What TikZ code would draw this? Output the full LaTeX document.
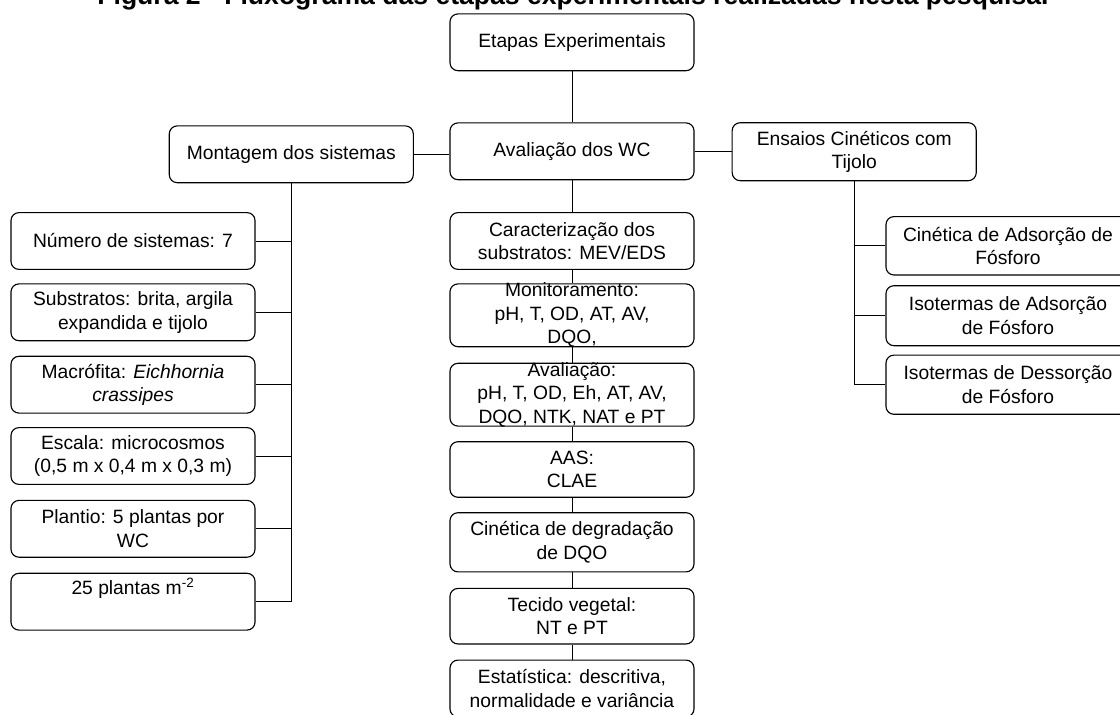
\documentclass[tikz,border=0pt]{standalone}
\usepackage{fontspec}
\setmainfont{Liberation Sans}
\tikzstyle{caixa}=[draw,rounded corners=0.2cm,line width=0.8pt,minimum width=6.1cm,minimum height=1.42cm,inner sep=2pt,align=center,font=\fontsize{13.7}{16.7}\selectfont]
\tikzstyle{texto}=[align=center,inner sep=0pt,font=\fontsize{13.7}{16.7}\selectfont]
\tikzstyle{titulo}=[inner sep=0pt,font=\fontsize{18.9}{22}\selectfont\bfseries]
\newcommand{\pxunit}{0.025cm}

\begin{document}
\begin{tikzpicture}[x=\pxunit,y=-\pxunit,line width=0.65pt]
    \useasboundingbox (0,0) rectangle (1120,715);
    \node[titulo,anchor=base] (tit) at (573,5) {Figura 2 - Fluxograma das etapas experimentais realizadas nesta pesquisa.};
    % topo
    \node[caixa] (etapas) at (572,42.3) {Etapas Experimentais};
    \node[caixa] (aval) at (572,151.3) {Avalia\c{c}\~ao dos WC};
    \node[caixa] (mont) at (291.3,154.3) {Montagem dos sistemas};
    \node[caixa,minimum height=1.45cm] (ens) at (854.2,151.7) {Ensaios Cin\'eticos com\\Tijolo};
    % coluna esquerda
    \node[caixa] (n1) at (133,241) {N\'umero de sistemas: 7};
    \node[caixa] (n2) at (133,312.3) {Substratos: brita, argila\\expandida e tijolo};
    \node[caixa] (n3) at (133,384.7) {Macr\'ofita: \textit{Eichhornia}\\\textit{crassipes}};
    \node[caixa] (n4) at (133,456) {Escala: microcosmos\\(0,5 m x 0,4 m x 0,3 m)};
    \node[caixa] (n5) at (133,528.8) {Plantio: 5 plantas por\\WC};
    \node[caixa] (n6) at (133,601.7) {25 plantas m\textsuperscript{-2}\\\strut};
    % coluna central
    \node[caixa] (car) at (572,241) {Caracteriza\c{c}\~ao dos\\substratos: MEV/EDS};
    \node[caixa,minimum height=1.57cm,label={[texto]center:{Monitoramento:\\pH, T, OD, AT, AV,\\DQO,}}] (mon) at (572,315.3) {};
    \node[caixa,minimum height=1.57cm,label={[texto]center:{Avalia\c{c}\~ao:\\pH, T, OD, Eh, AT, AV,\\DQO, NTK, NAT e PT}}] (ava) at (572,394.7) {};
    \node[caixa,minimum height=1.39cm] (aas) at (572,469.5) {AAS:\\CLAE};
    \node[caixa,minimum height=1.48cm] (cin) at (572,542.3) {Cin\'etica de degrada\c{c}\~ao\\de DQO};
    \node[caixa,minimum height=1.39cm] (tec) at (572,616.2) {Tecido vegetal:\\NT e PT};
    \node[caixa] (est) at (572,688.5) {Estat\'istica: descritiva,\\normalidade e vari\^ancia};
    % coluna direita
    \node[caixa,minimum height=1.46cm] (r1) at (1008,245.8) {Cin\'etica de Adsor\c{c}\~ao de\\F\'osforo};
    \node[caixa,minimum height=1.5cm] (r2) at (1008,315.7) {Isotermas de Adsor\c{c}\~ao\\de F\'osforo};
    \node[caixa,minimum height=1.48cm] (r3) at (1008,384.7) {Isotermas de Dessor\c{c}\~ao\\de F\'osforo};
    % ligacoes
    \draw (etapas) -- (aval);
    \draw (mont.east) -- (mont.east -| aval.west);
    \draw (aval.east) -- (aval.east -| ens.west);
    \foreach \a/\b in {aval/car,car/mon,mon/ava,ava/aas,aas/cin,cin/tec,tec/est}
        \draw (\a.south) -- (\b.north);
    \draw (mont.south) |- (n6.east);
    \foreach \n in {n1,n2,n3,n4,n5}
        \draw (\n.east) -- (\n.east -| mont.south);
    \draw (ens.south) |- (r3.west);
    \foreach \n in {r1,r2}
        \draw (\n.west) -- (\n.west -| ens.south);
\end{tikzpicture}
\end{document}
